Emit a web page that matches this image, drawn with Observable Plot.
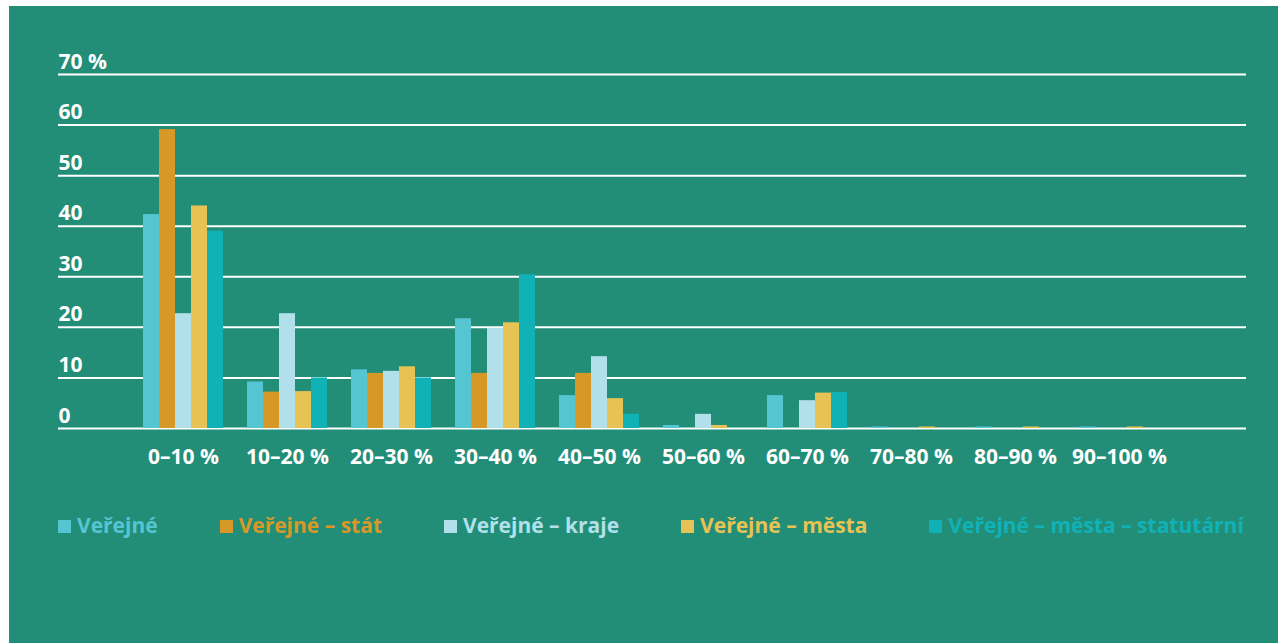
<!DOCTYPE html>
<html>
<head>
<meta charset="utf-8">
<script src="https://cdn.jsdelivr.net/npm/d3@7"></script>
<script src="https://cdn.jsdelivr.net/npm/@observablehq/plot@0.6"></script>
<style>
  html, body { margin: 0; padding: 0; background: #ffffff; width: 1278px; height: 643px; overflow: hidden; }
  #bg { position: absolute; left: 9px; top: 6px; right: 0; bottom: 0; background: #228E78; }
  #chart { position: absolute; left: 0; top: 0; }
  #legend { position: absolute; left: 58px; top: 512px; display: flex; gap: 62px;
    font-family: "Open Sans", sans-serif; font-weight: 700; font-size: 21px; line-height: 26px; }
  .item { display: flex; align-items: center; white-space: nowrap; }
  .sw { width: 13px; height: 13px; margin-right: 6px; margin-top: 2px; }
</style>
</head>
<body>
<div id="bg"></div>
<div id="chart"></div>
<div id="legend"></div>
<script>
const categories = ["0–10 %", "10–20 %", "20–30 %", "30–40 %", "40–50 %", "50–60 %", "60–70 %", "70–80 %", "80–90 %", "90–100 %"];
const seriesNames = ["Veřejné", "Veřejné – stát", "Veřejné – kraje", "Veřejné – města", "Veřejné – města – statutární"];
const verejne     = [42.3, 9.2, 11.6, 21.7, 6.5, 0.6, 6.5, 0.3, 0.3, 0.3];
const stat        = [59.1, 7.2, 10.9, 10.9, 10.9, 0, 0, 0, 0, 0];
const kraje       = [22.7, 22.7, 11.3, 19.8, 14.2, 2.8, 5.5, 0, 0, 0];
const mesta       = [44.0, 7.3, 12.2, 20.9, 5.9, 0.6, 7.0, 0.3, 0.3, 0.3];
const statutarni  = [39.0, 10.0, 10.0, 30.4, 2.8, 0, 7.1, 0, 0, 0];
const seriesColors = ["#55C5D1", "#D69928", "#B1E0EA", "#E6C354", "#11B2B7"];
const yTicks = [0, 10, 20, 30, 40, 50, 60, 70];
const yTickLabels = ["0", "10", "20", "30", "40", "50", "60", "70 %"];

const seriesValues = [verejne, stat, kraje, mesta, statutarni];
const rows = [];
seriesValues.forEach((vals, si) => {
  vals.forEach((v, ci) => rows.push({category: categories[ci], series: seriesNames[si], si, value: v}));
});

const step = 104, groupPad = 12, barW = 16;
const barMarks = seriesNames.map((name, si) =>
  Plot.barY(rows.filter(r => r.si === si && r.value > 0), {
    x: "category", y: "value", fill: seriesColors[si],
    insetLeft: groupPad + barW * si,
    insetRight: step - groupPad - barW * (si + 1)
  })
);

const chart = Plot.plot({
  width: 1278,
  height: 480,
  marginLeft: 58,
  marginRight: 32,
  marginTop: 74,
  marginBottom: 52,
  style: {background: "transparent", fontFamily: "'Open Sans', sans-serif", fontWeight: 700, fontSize: "21px", color: "white", overflow: "visible"},
  x: {domain: categories, range: [131, 1171], padding: 0, axis: null},
  y: {domain: [0, 70], axis: null},
  marks: [
    Plot.ruleY(yTicks, {stroke: "white", strokeWidth: 2}),
    ...barMarks,
    Plot.text(yTicks, {y: d => d, text: (d, i) => yTickLabels[i], frameAnchor: "left", textAnchor: "start", lineAnchor: "bottom", dy: -6, fill: "white", fontSize: 21, fontWeight: 700}),
    Plot.text(categories, {x: d => d, frameAnchor: "bottom", textAnchor: "middle", lineAnchor: "top", dy: 21, fill: "white", fontSize: 21, fontWeight: 700})
  ]
});
document.getElementById("chart").appendChild(chart);

const legend = document.getElementById("legend");
seriesNames.forEach((name, i) => {
  const item = document.createElement("div");
  item.className = "item";
  const sw = document.createElement("span");
  sw.className = "sw";
  sw.style.background = seriesColors[i];
  const label = document.createElement("span");
  label.textContent = name;
  label.style.color = seriesColors[i];
  item.appendChild(sw);
  item.appendChild(label);
  legend.appendChild(item);
});
</script>
</body>
</html>
